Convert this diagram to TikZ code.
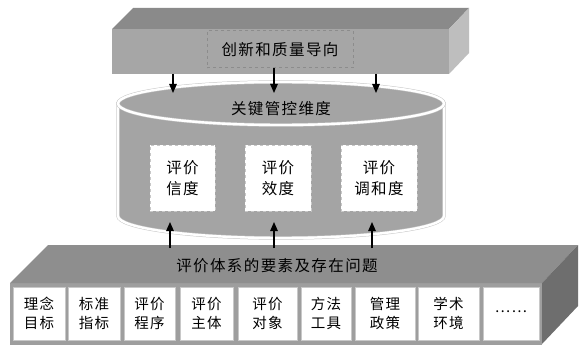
\documentclass[tikz,border=0pt]{standalone}
\usepackage{fontspec}
\setmainfont[LetterSpace=9]{Noto Sans CJK SC}
\usetikzlibrary{arrows.meta}
\definecolor{ttop}{HTML}{8A8A8A}
\definecolor{tfront}{HTML}{A6A6A6}
\definecolor{tright}{HTML}{BEBEBE}
\definecolor{cylgray}{HTML}{A4A4A4}
\definecolor{btop}{HTML}{8E8E8E}
\definecolor{bfront}{HTML}{9E9E9E}
\definecolor{bright}{HTML}{6E6E6E}
\definecolor{dashgray}{HTML}{8C8C8C}
\definecolor{rimgray}{HTML}{C8C8C8}
\tikzset{
  dashbox/.style={draw=dashgray, dashed, line width=1pt, inner sep=0pt,
    font=\fontsize{15.5pt}{20pt}\selectfont},
  cylrim/.style={draw=rimgray, double=white, double distance=2.4pt, line width=0.5pt},
  dimbox/.style={fill=white, draw=rimgray, dashed, line width=1pt, inner sep=0pt,
    minimum height=66pt, align=center, font=\fontsize{15.5pt}{21pt}\selectfont},
  elembox/.style={fill=white, draw=rimgray, line width=0.6pt, inner sep=0pt,
    minimum height=53pt, align=center, font=\fontsize{14.5pt}{19pt}\selectfont},
  lbl/.style={inner sep=0pt, font=\fontsize{15.5pt}{20pt}\selectfont},
  arr/.style={line width=1.3pt, -{Triangle[length=9pt,width=7.5pt]}}
}
\begin{document}
\begin{tikzpicture}[x=1pt,y=-1pt]
\useasboundingbox (0,0) rectangle (579,345);
\fill[white] (0,0) rectangle (579,345);
% top box
\fill[tfront] (112,29) rectangle (449,74);
\fill[ttop] (112,29) -- (133,8) -- (469,8) -- (449,29) -- cycle;
\fill[tright] (449,29) -- (469,8) -- (469,53) -- (449,74) -- cycle;
\node[dashbox, minimum width=146pt, minimum height=37pt] (guide) at (280,49.5) {创新和质量导向};
% cylinder
\path[cylrim, fill=cylgray] (118,103.5) -- (118,216)
  arc[start angle=180, end angle=360, x radius=163pt, y radius=22pt] -- (444,103.5) -- cycle;
\path[cylrim, fill=cylgray] (281,103.5) ellipse [x radius=163pt, y radius=21.5pt];
\node[lbl] (core) at (281,109) {关键管控维度};
\node[dimbox, minimum width=65pt] (xd) at (182.5,178) {评价\\信度};
\node[dimbox, minimum width=66pt] (eff) at (278,178) {评价\\效度};
\node[dimbox, minimum width=76pt] (hd) at (379,178) {评价\\调和度};
% bottom box
\fill[bfront] (10,283) rectangle (542,345);
\fill[btop] (10,283) -- (48,245) -- (578,245) -- (542,283) -- cycle;
\fill[bright] (542,283) -- (578,245) -- (578,306) -- (542,344) -- cycle;
\node[lbl] (elems) at (277,266) {评价体系的要素及存在问题};
\node[elembox, minimum width=52pt] (e1) at (39,313.5) {理念\\目标};
\node[elembox, minimum width=52pt] (e2) at (94,313.5) {标准\\指标};
\node[elembox, minimum width=51pt] (e3) at (149.5,313.5) {评价\\程序};
\node[elembox, minimum width=53pt] (e4) at (206.5,313.5) {评价\\主体};
\node[elembox, minimum width=59pt] (e5) at (267.5,313.5) {评价\\对象};
\node[elembox, minimum width=50pt] (e6) at (326,313.5) {方法\\工具};
\node[elembox, minimum width=60pt] (e7) at (385,313.5) {管理\\政策};
\node[elembox, minimum width=61pt] (e8) at (448.5,313.5) {学术\\环境};
\node[elembox, minimum width=56pt] (e9) at (511,313.5) {\raisebox{4pt}{……}};
% arrows down
\coordinate (d1s) at (173,74); \coordinate (d1e) at (173,93);
\coordinate (d2s) at (274,68); \coordinate (d2e) at (274,93);
\coordinate (d3s) at (376,74); \coordinate (d3e) at (376,93);
\draw[arr] (d1s) -- (d1e);
\draw[arr] (d2s) -- (d2e);
\draw[arr] (d3s) -- (d3e);
% arrows up
\coordinate (u1s) at (170,248); \coordinate (u1e) at (170,222);
\coordinate (u2s) at (274,248); \coordinate (u2e) at (274,222);
\coordinate (u3s) at (372,248); \coordinate (u3e) at (372,222);
\draw[arr] (u1s) -- (u1e);
\draw[arr] (u2s) -- (u2e);
\draw[arr] (u3s) -- (u3e);
\end{tikzpicture}
\end{document}
